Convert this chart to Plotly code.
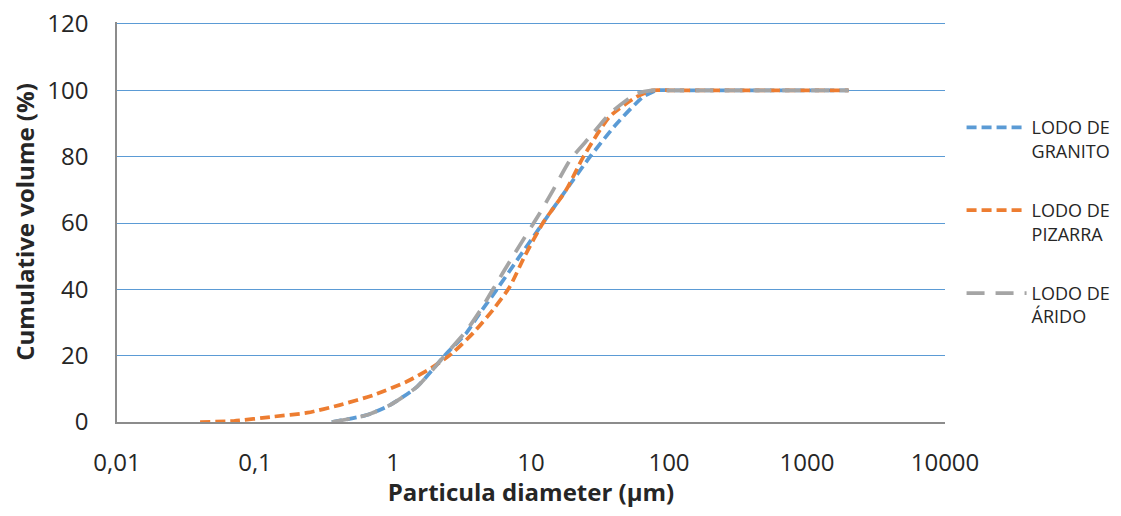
import plotly.graph_objects as go

# Data
granito_x = [0.36, 0.645, 0.95, 1.49, 2.46, 3.4, 4.27, 5.2, 8.3, 12.2, 18.0, 26.8, 41.9, 64.8, 81, 100, 200, 500, 1000, 2000]
granito_y = [0, 2.1, 5.1, 10.6, 20.8, 26.8, 32.9, 37.8, 50, 60, 70, 80, 90, 98, 100, 100, 100, 100, 100, 100]

pizarra_x = [0.04, 0.07, 0.135, 0.24, 0.41, 0.72, 1.26, 1.95, 2.7, 3.8, 5.3, 7.0, 9.0, 12.2, 18, 24, 37, 58, 76, 100, 200, 500, 1000, 2000]
pizarra_y = [0, 0.3, 1.6, 2.8, 5.1, 8.1, 12.2, 16.6, 20.8, 26.8, 33.8, 40.7, 50, 60, 70, 80, 92, 98, 100, 100, 100, 100, 100, 100]

arido_x = [0.36, 0.645, 0.95, 1.49, 2.46, 3.4, 4.27, 5.3, 7.4, 11.6, 14.5, 19.2, 26.8, 37.3, 58, 75, 100, 200, 500, 1000, 2000]
arido_y = [0, 2.1, 5.1, 10.6, 20.8, 27.5, 33.5, 40, 50, 63, 70, 79, 86, 93, 99, 100, 100, 100, 100, 100, 100]

x_tickvals = [0.01, 0.1, 1, 10, 100, 1000, 10000]
x_ticktext = ["0,01", "0,1", "1", "10", "100", "1000", "10000"]
y_tickvals = [0, 20, 40, 60, 80, 100, 120]

series = [
    ("LODO DE<br>GRANITO", granito_x, granito_y, "#5B9BD5", "10px,5px"),
    ("LODO DE<br>PIZARRA", pizarra_x, pizarra_y, "#ED7D31", "10px,5px"),
    ("LODO DE<br>ÁRIDO", arido_x, arido_y, "#A5A5A5", "18px,11px"),
]

fig = go.Figure()
for i, (name, xs, ys, color, dash) in enumerate(series):
    fig.add_trace(go.Scatter(
        x=xs, y=ys, name=name, mode="lines", legendgroup=str(i),
        line=dict(color=color, width=3.75, dash=dash, shape="spline", smoothing=0.6),
    ))

# The page body adds an 8px margin on every side, so the figure is sized to fit the window.
font_family = "Open Sans"
fig.update_layout(
    width=1105, height=500,
    margin=dict(l=109, r=168, t=14, b=86, autoexpand=False),
    paper_bgcolor="white", plot_bgcolor="white",
    font=dict(family=font_family, color="#262626"),
    legend=dict(x=1.02, xanchor="left", y=0.782, yanchor="top",
                font=dict(size=18, color="#262626"), valign="top",
                tracegroupgap=33, itemwidth=60),
    showlegend=True,
)
fig.update_xaxes(
    type="log", range=[-2, 4], tickvals=x_tickvals, ticktext=x_ticktext,
    showgrid=False, showline=True, linecolor="#8c8c8c", linewidth=1.5,
    ticks="", tickfont=dict(size=24, color="#262626"), ticklabelstandoff=18,
    ticklabeloverflow="allow",
    title=dict(text="<b>Particula diameter (µm)</b>", font=dict(size=24, color="#262626"), standoff=21),
    zeroline=False, automargin=False,
)
fig.update_yaxes(
    range=[0, 120.6], tickvals=y_tickvals,
    showgrid=True, gridcolor="#5B9BD5", gridwidth=1,
    showline=True, linecolor="#8c8c8c", linewidth=1.5,
    ticks="", tickfont=dict(size=24, color="#262626"), ticklabelstandoff=22,
    ticklabeloverflow="allow",
    title=dict(text="<b>Cumulative volume (%)</b>", font=dict(size=24, color="#262626"), standoff=11),
    zeroline=False, automargin=False,
)
fig.write_html("out.html")
